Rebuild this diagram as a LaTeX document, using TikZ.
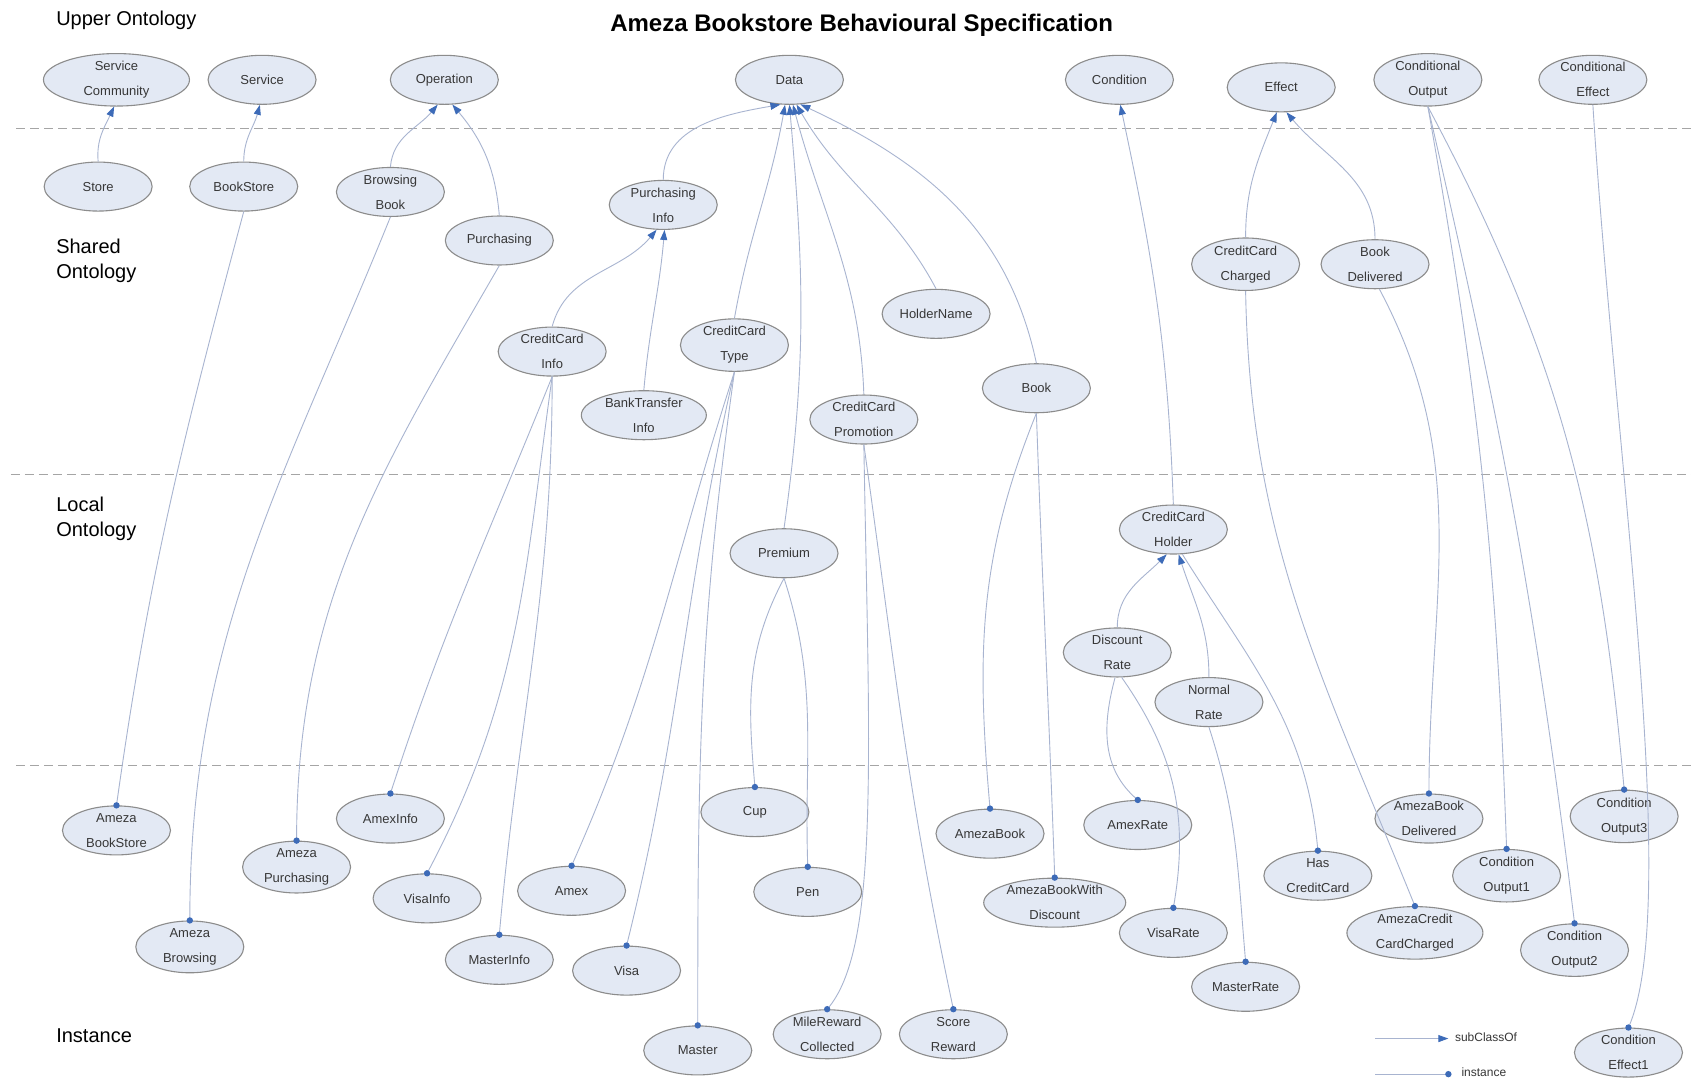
\documentclass[tikz,border=0pt]{standalone}
\usepackage{fontspec}
\setmainfont{Liberation Sans}
\usetikzlibrary{shapes.geometric,arrows.meta}

\definecolor{ellfill}{RGB}{227,233,244}
\definecolor{elldraw}{RGB}{140,140,140}
\definecolor{linkc}{RGB}{168,180,208}
\definecolor{tipc}{RGB}{61,107,184}
\definecolor{sepc}{RGB}{165,165,165}
\definecolor{txtc}{RGB}{55,55,55}

\tikzset{
  cls/.style={ellipse, draw=elldraw, line width=1.1pt, fill=ellfill,
    minimum width=108pt, minimum height=49pt, inner sep=0pt,
    font=\fontsize{13}{25}\selectfont, text=txtc, align=center},
  sub/.style={draw=linkc, line width=0.9pt,
    -{Triangle[length=10pt,width=7pt,fill=tipc,color=tipc]}},
  inst/.style={draw=linkc, line width=0.9pt},
  dotmark/.style={fill=tipc},
  sep/.style={draw=sepc, line width=1.4pt, dash pattern=on 9pt off 5pt},
  band/.style={font=\fontsize{20}{25}\selectfont, anchor=west, align=left, inner sep=0pt},
}

% instance link: class end (coordinate), instance node, out angle, in angle
\newcommand\instlink[4]{%
  \draw[inst] (#1) to[out=#3,in=#4] (#2.north);
  \fill[dotmark] (#2.north) circle (3.2pt);}
% instance link with explicit control points
\newcommand\instcurve[4]{%
  \draw[inst] (#1) .. controls (#2) and (#3) .. (#4.north);
  \fill[dotmark] (#4.north) circle (3.2pt);}

\begin{document}
\begin{tikzpicture}[x=1.0784pt,y=-1.0784pt]
\fill[white] (0,0) rectangle (1568,1006);
\useasboundingbox (0,0) rectangle (1568,1006);

% layer separators
\draw[sep] (15,119) -- (1568,119);
\draw[sep] (10,440) -- (1568,440);
\draw[sep] (15,710) -- (1568,710);

% titles
\node[font=\bfseries\fontsize{24}{28}\selectfont, inner sep=0pt] (title) at (799,23) {Ameza Bookstore Behavioural Specification};
\node[band] (lupper) at (52,19) {Upper Ontology};
\node[band] (lshared) at (52,242) {Shared\\Ontology};
\node[band] (llocal) at (52,481) {Local\\Ontology};
\node[band] (linst) at (52,960) {Instance};

% upper ontology
\node[cls, minimum width=146pt] (sc) at (108,74) {Service\\Community};
\node[cls] (svc) at (243,74) {Service};
\node[cls] (op) at (412,74) {Operation};
\node[cls] (data) at (732,74) {Data};
\node[cls] (cond) at (1038,74) {Condition};
\node[cls] (eff) at (1188,81) {Effect};
\node[cls] (cout) at (1324,74) {Conditional\\Output};
\node[cls] (ceff) at (1477,74) {Conditional\\Effect};

% shared ontology
\node[cls] (store) at (91,173) {Store};
\node[cls] (bstore) at (226,173) {BookStore};
\node[cls] (browse) at (362,178) {Browsing\\Book};
\node[cls] (purch) at (463,223) {Purchasing};
\node[cls] (pinfo) at (615,190) {Purchasing\\Info};
\node[cls] (ccch) at (1155,245) {CreditCard\\Charged};
\node[cls] (bkdel) at (1275,245) {Book\\Delivered};
\node[cls] (holder) at (868,291) {HolderName};
\node[cls] (ccinfo) at (512,326) {CreditCard\\Info};
\node[cls] (cctype) at (681,320) {CreditCard\\Type};
\node[cls, minimum width=125pt] (btinfo) at (597,385) {BankTransfer\\Info};
\node[cls] (ccpromo) at (801,389) {CreditCard\\Promotion};
\node[cls] (book) at (961,360) {Book};

% local ontology
\node[cls] (ccholder) at (1088,491) {CreditCard\\Holder};
\node[cls] (premium) at (727,513) {Premium};
\node[cls] (disc) at (1036,605) {Discount\\Rate};
\node[cls] (normal) at (1121,651) {Normal\\Rate};

% instances
\node[cls] (azbs) at (108,770) {Ameza\\BookStore};
\node[cls] (azpur) at (275,804) {Ameza\\Purchasing};
\node[cls] (azbr) at (176,878) {Ameza\\Browsing};
\node[cls] (amexinfo) at (362,759) {AmexInfo};
\node[cls] (visainfo) at (396,833) {VisaInfo};
\node[cls] (masterinfo) at (463,890) {MasterInfo};
\node[cls] (amex) at (530,826) {Amex};
\node[cls] (visa) at (581,900) {Visa};
\node[cls] (master) at (647,974) {Master};
\node[cls] (cup) at (700,753) {Cup};
\node[cls] (pen) at (749,827) {Pen};
\node[cls] (mile) at (767,959) {MileReward\\Collected};
\node[cls] (score) at (884,959) {Score\\Reward};
\node[cls] (azbook) at (918,773) {AmezaBook};
\node[cls, minimum width=142pt] (azbwd) at (978,837) {AmezaBookWith\\Discount};
\node[cls] (amexrate) at (1055,765) {AmexRate};
\node[cls] (visarate) at (1088,865) {VisaRate};
\node[cls] (masterrate) at (1155,915) {MasterRate};
\node[cls] (hascc) at (1222,812) {Has\\CreditCard};
\node[cls, minimum width=136pt] (azccc) at (1312,865) {AmezaCredit\\CardCharged};
\node[cls] (azbd) at (1325,759) {AmezaBook\\Delivered};
\node[cls] (co1) at (1397,812) {Condition\\Output1};
\node[cls] (co2) at (1460,881) {Condition\\Output2};
\node[cls] (co3) at (1506,757) {Condition\\Output3};
\node[cls] (ce1) at (1510,976) {Condition\\Effect1};

% subClassOf links
\draw[sub] (store.north) to[out=95,in=-115] (sc.-95);
\draw[sub] (bstore.north) to[out=90,in=-105] (svc.-95);
\draw[sub] (browse.north) to[out=85,in=-130] (op.-105);
\draw[sub] (purch.north) to[out=95,in=-50] (op.-72);
\draw[sub] (pinfo.north) to[out=90,in=-170] (data.-110);
\draw[sub] (cctype.north) to[out=80,in=-100] (data.-100);
\draw[sub] (premium.north) to[out=82,in=-85] (data.-90);
\draw[sub] (ccpromo.north) to[out=92,in=-75] (data.-82);
\draw[sub] (holder.north) to[out=118,in=-60] (data.-74);
\draw[sub] (book.north) to[out=102,in=-25] (data.-66);
\draw[sub] (ccinfo.north) to[out=75,in=-130] (pinfo.-105);
\draw[sub] (btinfo.north) to[out=85,in=-95] (pinfo.-87);
\draw[sub] (ccholder.north) to[out=92,in=-78] (cond.-88);
\draw[sub] (ccch.north) to[out=90,in=-112] (eff.-100);
\draw[sub] (bkdel.north) to[out=90,in=-50] (eff.-78);
\draw[sub] (disc.north) to[out=90,in=-135] (ccholder.-105);
\draw[sub] (normal.north) to[out=90,in=-72] (ccholder.-78);

% instance links
\instlink{bstore.south}{azbs}{-105}{82}
\instlink{browse.south}{azbr}{-112}{90}
\instlink{purch.south}{azpur}{-120}{90}
\instlink{ccinfo.south}{amexinfo}{-112}{72}
\instlink{ccinfo.south}{visainfo}{-98}{62}
\instlink{ccinfo.south}{masterinfo}{-90}{85}
\instlink{cctype.south}{amex}{-108}{66}
\instlink{cctype.south}{visa}{-103}{76}
\instlink{cctype.south}{master}{-98}{90}
\instlink{premium.south}{cup}{-118}{95}
\instlink{premium.south}{pen}{-72}{92}
\instcurve{ccpromo.south}{806,700}{816,880}{mile}
\instlink{ccpromo.south}{score}{-82}{102}
\instlink{book.south}{azbook}{-112}{95}
\instlink{book.south}{azbwd}{-88}{92}
\instlink{disc.-95}{amexrate}{-105}{140}
\instlink{disc.-80}{visarate}{-55}{80}
\instlink{normal.south}{masterrate}{-72}{95}
\instlink{ccholder.-70}{hascc}{-58}{95}
\instlink{ccch.south}{azccc}{-89}{112}
\instlink{bkdel.-80}{azbd}{-62}{90}
\instlink{cout.south}{co1}{-80}{92}
\instlink{cout.south}{co2}{-77}{97}
\instlink{cout.south}{co3}{-62}{95}
\instcurve{ceff.south}{1497,420}{1560,840}{ce1}

% legend
\coordinate (lga) at (1275,963);
\coordinate (lgb) at (1343,963);
\coordinate (lgc) at (1275,996);
\coordinate (lgd) at (1343,996);
\draw[sub] (lga) -- (lgb);
\draw[inst] (lgc) -- (lgd);
\fill[dotmark] (lgd) circle (3.2pt);
\node[anchor=west, font=\fontsize{12}{14}\selectfont, text=txtc, inner sep=0pt] (lsub) at (1349,962) {subClassOf};
\node[anchor=west, font=\fontsize{12}{14}\selectfont, text=txtc, inner sep=0pt] (linstance) at (1355,994) {instance};
\end{tikzpicture}
\end{document}
